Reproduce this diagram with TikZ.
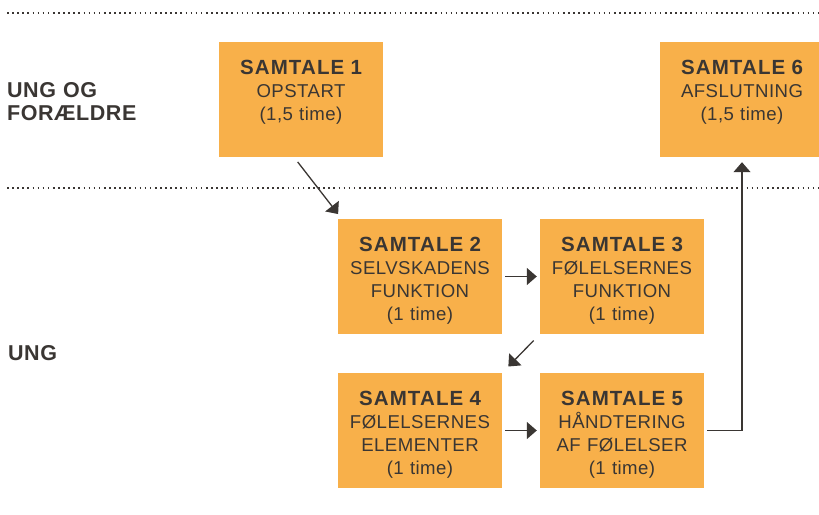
\documentclass[tikz,border=0pt]{standalone}
\usepackage{fontspec}
\setmainfont{Liberation Sans}
\usetikzlibrary{arrows.meta}
\definecolor{boxorange}{HTML}{F8B04A}
\definecolor{textgray}{HTML}{3A3633}
\newcommand{\titel}[1]{{\fontsize{20.5}{23}\selectfont\bfseries\addfontfeatures{LetterSpace=5.5}#1}}
\tikzstyle{samtale} = [rectangle, fill=boxorange, draw=none, minimum width=164pt, text width=164pt, inner sep=0pt, text height=32.5pt, text depth=82.5pt, align=center, text=textgray, font=\fontsize{18.6}{23}\selectfont\addfontfeatures{LetterSpace=2.5}]
\tikzstyle{gruppe} = [anchor=base west, text width=150pt, align=left, inner sep=0pt, text=textgray, font=\fontsize{21.5}{22.5}\selectfont\bfseries\addfontfeatures{LetterSpace=2.5}]
\tikzstyle{skille} = [textgray, line width=1.6pt, dash pattern=on 1.6pt off 3.5pt]
\tikzstyle{pil} = [->, textgray, line width=1.3pt]

\begin{document}
\begin{tikzpicture}[x=1pt, y=-1pt, >={Triangle[length=10pt,width=17pt]}]
        \useasboundingbox (0,0) rectangle (819,514);

        \draw[skille] (7,13) -- (819,13);
        \draw[skille] (7,188) -- (819,188);

        \node (ungforaeldre) [gruppe] at (7,97.5) {UNG OG\\FORÆLDRE};
        \node (ung) [gruppe] at (8,360.5) {UNG};

        \node (s1) [samtale] at (301,99.5) {\titel{SAMTALE 1}\\OPSTART\\(1,5 time)};
        \node (s6) [samtale] at (742,99.5) {\titel{SAMTALE 6}\\AFSLUTNING\\(1,5 time)};

        \node (s2) [samtale] at (420,276.5) {\titel{SAMTALE 2}\\SELVSKADENS\\FUNKTION\\(1 time)};
        \node (s3) [samtale] at (622,276.5) {\titel{SAMTALE 3}\\FØLELSERNES\\FUNKTION\\(1 time)};
        \node (s4) [samtale] at (420,430.5) {\titel{SAMTALE 4}\\FØLELSERNES\\ELEMENTER\\(1 time)};
        \node (s5) [samtale] at (622,430.5) {\titel{SAMTALE 5}\\HÅNDTERING\\AF FØLELSER\\(1 time)};

        \draw[pil, shorten <=6pt, shorten >=6pt] ([xshift=-7pt]s1.south) -- ([xshift=4pt]s2.north west);
        \draw[pil, shorten <=3pt, shorten >=3pt] (s2) -- (s3);
        \draw[pil, shorten <=8.8pt, shorten >=8.8pt] (s3.south west) -- (s4.north east);
        \draw[pil, shorten <=3pt, shorten >=3pt] (s4) -- (s5);
        \draw[pil, shorten <=3pt, shorten >=5pt] (s5.east) -| (s6.south);

    \end{tikzpicture}
\end{document}
